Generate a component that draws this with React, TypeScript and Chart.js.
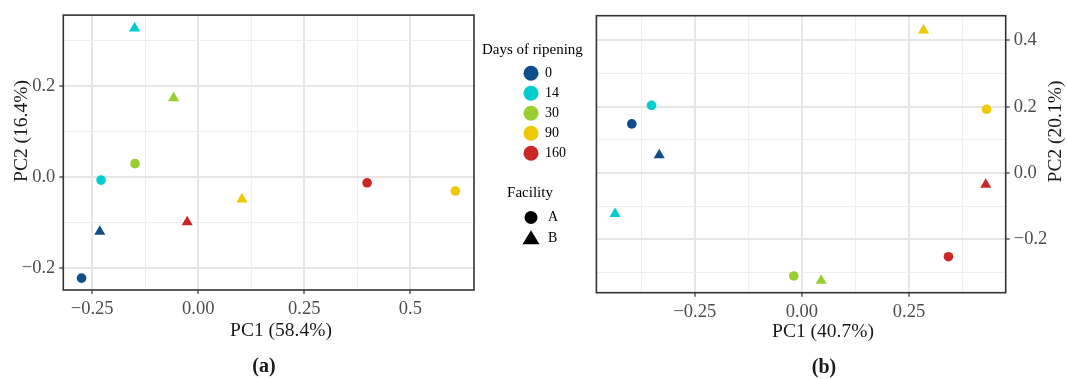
import React, { useEffect, useRef } from "react";
import { Chart, registerables } from "chart.js";

Chart.register(...registerables);

// ---------- data ----------
const days = ["0", "14", "30", "90", "160"];
const dayColors = ["#104E8B", "#00CDCD", "#9ACD32", "#EEC900", "#CD2626"];
const facilities = ["A", "B"];
const legendTitleDays = "Days of ripening";
const legendTitleFacility = "Facility";

// Panel (a) — facility A (circles) and B (triangles), one value per ripening day
const aPC1_A = [-0.275, -0.229, -0.149, 0.606, 0.398];
const aPC2_A = [-0.222, -0.007, 0.029, -0.031, -0.013];
const aPC1_B = [-0.232, -0.150, -0.058, 0.103, -0.026];
const aPC2_B = [-0.120, 0.326, 0.173, -0.049, -0.099];

// Panel (b)
const bPC1_A = [-0.397, -0.351, -0.019, 0.431, 0.342];
const bPC2_A = [0.148, 0.204, -0.310, 0.192, -0.252];
const bPC1_B = [-0.333, -0.436, 0.045, 0.284, 0.429];
const bPC2_B = [0.054, -0.123, -0.324, 0.430, -0.035];

// Tick values & labels
const aXTicks = [-0.25, 0, 0.25, 0.5];
const aXTickLabels = ["\u22120.25", "0.00", "0.25", "0.5"];
const aXMinor = [-0.125, 0.125, 0.375];
const aYTicks = [-0.2, 0, 0.2];
const aYTickLabels = ["\u22120.2", "0.0", "0.2"];
const aYMinor = [-0.1, 0.1, 0.3];

const bXTicks = [-0.25, 0, 0.25];
const bXTickLabels = ["\u22120.25", "0.00", "0.25"];
const bXMinor = [-0.375, -0.125, 0.125, 0.375];
const bYTicks = [-0.2, 0, 0.2, 0.4];
const bYTickLabels = ["\u22120.2", "0.0", "0.2", "0.4"];
const bYMinor = [-0.3, -0.1, 0.1, 0.3];

const aXTitle = "PC1 (58.4%)";
const aYTitle = "PC2 (16.4%)";
const bXTitle = "PC1 (40.7%)";
const bYTitle = "PC2 (20.1%)";
const aCaption = "(a)";
const bCaption = "(b)";

// ---------- helpers ----------
const FONT = '"Liberation Serif", "DejaVu Serif", serif';

function isIn(v: number, arr: number[]) {
  return arr.some((m) => Math.abs(m - v) < 1e-9);
}

function makeAxis(
  position: string,
  min: number,
  max: number,
  majors: number[],
  labels: string[],
  minors: number[],
  size: number
) {
  const horizontal = position === "bottom" || position === "top";
  return {
    type: "linear",
    position,
    min,
    max,
    afterBuildTicks: (scale: any) => {
      const vals = [...majors, ...minors].sort((p, q) => p - q);
      scale.ticks = vals.map((v) => ({ value: v }));
    },
    afterFit: (scale: any) => {
      if (horizontal) scale.height = size;
      else scale.width = size;
    },
    border: { display: false },
    grid: {
      drawOnChartArea: true,
      drawTicks: true,
      tickLength: 4,
      color: (ctx: any) =>
        ctx.tick && isIn(ctx.tick.value, majors) ? "#E6E6E6" : "#EEEEEE",
      lineWidth: (ctx: any) =>
        ctx.tick && isIn(ctx.tick.value, majors) ? 2 : 1,
      tickColor: (ctx: any) =>
        ctx.tick && isIn(ctx.tick.value, majors) ? "#333333" : "rgba(0,0,0,0)",
      tickWidth: 1.2,
    },
    ticks: {
      autoSkip: false,
      maxRotation: 0,
      minRotation: 0,
      padding: 4,
      color: "#4D4D4D",
      font: { family: FONT, size: 18.5 },
      callback: (value: number) => {
        const idx = majors.findIndex((m) => Math.abs(m - value) < 1e-9);
        return idx >= 0 ? labels[idx] : "";
      },
    },
  };
}

function pts(xs: number[], ys: number[]) {
  return xs.map((x, i) => ({ x, y: ys[i] }));
}

type TextItem = { text: string; x: number; y: number; rot?: boolean; size: number; bold?: boolean };

function decorPlugin(texts: TextItem[], drawLegend: boolean) {
  return {
    id: "decor",
    afterDraw(chart: any) {
      const ctx = chart.ctx as CanvasRenderingContext2D;
      const ca = chart.chartArea;
      ctx.save();
      // panel border
      ctx.strokeStyle = "#333333";
      ctx.lineWidth = 1.6;
      ctx.strokeRect(ca.left, ca.top, ca.right - ca.left, ca.bottom - ca.top);

      // texts
      ctx.fillStyle = "#1A1A1A";
      ctx.textAlign = "center";
      ctx.textBaseline = "middle";
      texts.forEach((t) => {
        ctx.font = `${t.bold ? "bold " : ""}${t.size}px ${FONT}`;
        if (t.rot) {
          ctx.save();
          ctx.translate(t.x, t.y);
          ctx.rotate(-Math.PI / 2);
          ctx.fillText(t.text, 0, 0);
          ctx.restore();
        } else {
          ctx.fillText(t.text, t.x, t.y);
        }
      });

      if (drawLegend) {
        const cx = 531;
        ctx.fillStyle = "#000000";
        ctx.font = `15px ${FONT}`;
        ctx.textAlign = "left";
        ctx.fillText(legendTitleDays, 482, 50);
        days.forEach((d, i) => {
          const y = 73.3 + i * 20;
          ctx.beginPath();
          ctx.arc(cx, y, 7.5, 0, Math.PI * 2);
          ctx.fillStyle = dayColors[i];
          ctx.fill();
          ctx.fillStyle = "#000000";
          ctx.font = `14px ${FONT}`;
          ctx.textAlign = "left";
          ctx.fillText(d, 545, y + 0.5);
        });
        ctx.font = `15px ${FONT}`;
        ctx.textAlign = "center";
        ctx.fillText(legendTitleFacility, 530, 193);
        // A: circle
        ctx.beginPath();
        ctx.arc(cx, 217.5, 6.5, 0, Math.PI * 2);
        ctx.fill();
        // B: triangle
        ctx.beginPath();
        ctx.moveTo(cx, 230.3);
        ctx.lineTo(cx + 8.5, 244.3);
        ctx.lineTo(cx - 8.5, 244.3);
        ctx.closePath();
        ctx.fill();
        ctx.font = `14px ${FONT}`;
        ctx.textAlign = "left";
        ctx.fillText(facilities[0], 548, 217);
        ctx.fillText(facilities[1], 548, 238.5);
      }
      ctx.restore();
    },
  };
}

function makeDatasets(xA: number[], yA: number[], xB: number[], yB: number[]) {
  return [
    {
      label: facilities[0],
      data: pts(xA, yA),
      pointStyle: "circle",
      pointRadius: 4.8,
      pointBackgroundColor: dayColors,
      pointBorderColor: dayColors,
      pointBorderWidth: 0,
      showLine: false,
    },
    {
      label: facilities[1],
      data: pts(xB, yB),
      pointStyle: "triangle",
      pointRadius: 6.4,
      pointBackgroundColor: dayColors,
      pointBorderColor: dayColors,
      pointBorderWidth: 0,
      showLine: false,
    },
  ];
}

export default function App() {
  const refA = useRef<HTMLCanvasElement | null>(null);
  const refB = useRef<HTMLCanvasElement | null>(null);

  useEffect(() => {
    if (!refA.current || !refB.current) return;

    const chartA = new Chart(refA.current, {
      type: "scatter",
      data: { datasets: makeDatasets(aPC1_A, aPC2_A, aPC1_B, aPC2_B) as any },
      options: {
        responsive: false,
        animation: false,
        devicePixelRatio: 1,
        layout: { padding: { left: 0, top: 15, right: 116, bottom: 0 } },
        plugins: { legend: { display: false }, tooltip: { enabled: false } },
        scales: {
          x: makeAxis("bottom", -0.318, 0.65, aXTicks, aXTickLabels, aXMinor, 89) as any,
          y: makeAxis("left", -0.248, 0.3547, aYTicks, aYTickLabels, aYMinor, 63.3) as any,
        },
      },
      plugins: [
        decorPlugin(
          [
            { text: aXTitle, x: 281, y: 331, size: 19.5 },
            { text: aYTitle, x: 22, y: 131, size: 19.5, rot: true },
            { text: aCaption, x: 264, y: 367, size: 20, bold: true },
          ],
          true
        ),
      ],
    } as any);

    const chartB = new Chart(refB.current, {
      type: "scatter",
      data: { datasets: makeDatasets(bPC1_A, bPC2_A, bPC1_B, bPC2_B) as any },
      options: {
        responsive: false,
        animation: false,
        devicePixelRatio: 1,
        layout: { padding: { left: 4, top: 15.7, right: 0, bottom: 0 } },
        plugins: { legend: { display: false }, tooltip: { enabled: false } },
        scales: {
          x: makeAxis("bottom", -0.4796, 0.4756, bXTicks, bXTickLabels, bXMinor, 86.3) as any,
          y: makeAxis("right", -0.3605, 0.474, bYTicks, bYTickLabels, bYMinor, 61.3) as any,
        },
      },
      plugins: [
        decorPlugin(
          [
            { text: bXTitle, x: 233, y: 331.5, size: 19.5 },
            { text: bYTitle, x: 466, y: 131.5, size: 19.5, rot: true },
            { text: bCaption, x: 234, y: 368, size: 20, bold: true },
          ],
          false
        ),
      ],
    } as any);

    return () => {
      chartA.destroy();
      chartB.destroy();
    };
  }, []);

  return (
    <div
      style={{
        position: "absolute",
        left: 0,
        top: 0,
        width: 1067,
        height: 379,
        background: "#ffffff",
        overflow: "hidden",
      }}
    >
      <canvas
        ref={refA}
        width={590}
        height={379}
        style={{ position: "absolute", left: 0, top: 0, width: 590, height: 379 }}
      />
      <canvas
        ref={refB}
        width={477}
        height={379}
        style={{ position: "absolute", left: 590, top: 0, width: 477, height: 379 }}
      />
    </div>
  );
}
